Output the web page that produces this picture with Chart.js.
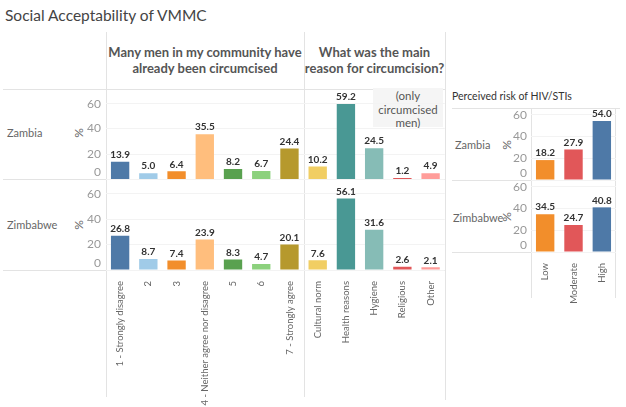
<!DOCTYPE html>
<html><head><meta charset="utf-8">
<script src="https://cdn.jsdelivr.net/npm/chart.js@4"></script>
<style>
html,body{margin:0;padding:0;background:#fff;width:626px;height:407px;overflow:hidden;font-family:Lato,"Open Sans",sans-serif;}
.abs{position:absolute;white-space:nowrap;}
.hl{position:absolute;height:1px;background:#e3e3e3;}
.vl{position:absolute;width:1px;background:#e3e3e3;}
.hdr{position:absolute;text-align:center;font-weight:bold;font-size:13px;line-height:16px;color:#555;}
.row{position:absolute;font-size:11px;color:#666;line-height:14px;}
.pct{position:absolute;font-size:12px;color:#666;transform:rotate(-90deg);line-height:12px;}
canvas{position:absolute;}
</style></head>
<body>
<!-- structure lines -->
<div class="hl" style="left:3px;top:89px;width:442px"></div>
<div class="hl" style="left:3px;top:179px;width:442px"></div>
<div class="hl" style="left:3px;top:270px;width:442px"></div>
<div class="vl" style="left:106px;top:32px;height:365px"></div>
<div class="vl" style="left:304px;top:32px;height:365px"></div>
<div class="vl" style="left:445px;top:32px;height:368px"></div>
<div class="hl" style="left:452px;top:108px;width:168px"></div>
<div class="hl" style="left:452px;top:180px;width:164px"></div>
<div class="hl" style="left:452px;top:252px;width:164px"></div>
<div class="vl" style="left:531px;top:108px;height:190px"></div>
<div class="vl" style="left:615px;top:108px;height:190px"></div>
<div class="abs" style="left:373px;top:88px;width:70px;height:39px;background:#f5f5f5"></div>

<div class="abs" style="left:5px;top:6px;font-size:15.5px;color:#444">Social Acceptability of VMMC</div>
<div class="hdr" style="left:106px;top:44px;width:198px">Many men in my community have<br>already been circumcised</div>
<div class="hdr" style="left:304px;top:44px;width:141px">What was the main<br>reason for circumcision?</div>
<div class="abs" style="left:373px;top:89px;width:70px;text-align:center;font-size:11.5px;line-height:13.5px;color:#555">(only<br>circumcised<br>men)</div>
<div class="abs" style="left:452px;top:90px;font-size:10.5px;color:#333">Perceived risk of HIV/STIs</div>

<div class="row" style="left:7px;top:126px">Zambia</div>
<div class="row" style="left:7px;top:218px">Zimbabwe</div>
<div class="pct" style="left:74px;top:127px">%</div>
<div class="pct" style="left:74px;top:219px">%</div>
<div class="row" style="left:455px;top:138px">Zambia</div>
<div class="row" style="left:453px;top:211px">Zimbabwe</div>
<div class="pct" style="left:502px;top:139px">%</div>
<div class="pct" style="left:502px;top:211px">%</div>

<canvas id="c1" width="445" height="318" style="left:0;top:89px"></canvas>
<canvas id="c2" width="181" height="299" style="left:445px;top:108px"></canvas>

<script>
const scaleCategories = ['1 - Strongly disagree','2','3','4 - Neither agree nor disagree','5','6','7 - Strongly agree'];
const reasonCategories = ['Cultural norm','Health reasons','Hygiene','Religious','Other'];
const riskCategories = ['Low','Moderate','High'];
const zambiaScale = [13.9,5.0,6.4,35.5,8.2,6.7,24.4];
const zimbabweScale = [26.8,8.7,7.4,23.9,8.3,4.7,20.1];
const zambiaReason = [10.2,59.2,24.5,1.2,4.9];
const zimbabweReason = [7.6,56.1,31.6,2.6,2.1];
const zambiaRisk = [18.2,27.9,54.0];
const zimbabweRisk = [34.5,24.7,40.8];
const yTickValues = [0,20,40,60];

const scaleColors = ['#4e79a7','#a0cbe8','#f28e2b','#ffbe7d','#59a14f','#8cd17d','#b6992d'];
const reasonColors = ['#f1ce63','#499894','#86bcb6','#e15759','#ff9d9a'];
const riskColors = ['#f28e2b','#e15759','#4e79a7'];

const valuePlugin = {
  id:'vals',
  afterDatasetsDraw(chart){
    const ctx = chart.ctx; ctx.save();
    ctx.font = 'bold 10px Lato'; ctx.fillStyle = '#333';
    ctx.textAlign = 'center'; ctx.textBaseline = 'bottom';
    chart.data.datasets.forEach((ds,i)=>{
      chart.getDatasetMeta(i).data.forEach((bar,j)=>{
        ctx.fillText(ds.data[j].toFixed(1), bar.x, bar.y - 2);
      });
    });
    ctx.restore();
  }
};
const yLabelPlugin = {
  id:'ylabels',
  afterDraw(chart, args, opts){
    const ctx = chart.ctx; ctx.save();
    ctx.font = '12px Lato'; ctx.fillStyle = '#999';
    ctx.textAlign = 'right'; ctx.textBaseline = 'middle';
    ['yZam','yZim'].forEach(id=>{
      const s = chart.scales[id];
      yTickValues.forEach(v=>{
        let y = s.getPixelForValue(v);
        if (v === 0) y -= 7;
        if (v === 60) y += 1;
        ctx.fillText(String(v), opts.x, y);
      });
    });
    ctx.restore();
  }
};

function yScale(max, w){
  return {
    type:'linear', position:'left', stack:'rows', stackWeight:1, min:0, max:max,
    ticks:{display:false, stepSize:20, includeBounds:false},
    grid:{color:'#f3f3f3', drawTicks:false},
    border:{display:false},
    afterFit(s){ s.width = w; }
  };
}
function makeChart(id, labels, zam, zim, colors, ymax, yw, xh, labelX, padRight){
  return new Chart(document.getElementById(id), {
    type:'bar',
    data:{
      labels: labels,
      datasets:[
        {label:'Zambia', data:zam, yAxisID:'yZam', backgroundColor:colors},
        {label:'Zimbabwe', data:zim, yAxisID:'yZim', backgroundColor:colors}
      ]
    },
    options:{
      responsive:false, animation:false, devicePixelRatio:1,
      layout:{padding:{left:0,right:padRight,top:0,bottom:0}},
      datasets:{bar:{grouped:false, categoryPercentage:0.65, barPercentage:1}},
      plugins:{legend:{display:false}, tooltip:{enabled:false}, ylabels:{x:labelX}},
      scales:{
        x:{
          type:'category', grid:{display:false}, border:{display:false},
          ticks:{autoSkip:false, minRotation:90, maxRotation:90, padding:3, color:'#666', font:{family:'Lato', size:9.5}},
          afterFit(s){ s.height = xh; }
        },
        yZim: yScale(ymax, yw),
        yZam: yScale(ymax, yw)
      }
    },
    plugins:[valuePlugin, yLabelPlugin]
  });
}

makeChart('c1', scaleCategories.concat(reasonCategories),
  zambiaScale.concat(zambiaReason), zimbabweScale.concat(zimbabweReason),
  scaleColors.concat(reasonColors), 71, 106, 137, 101, 0);
makeChart('c2', riskCategories, zambiaRisk, zimbabweRisk, riskColors, 65.8, 86, 155, 82, 10);
</script>
</body></html>
